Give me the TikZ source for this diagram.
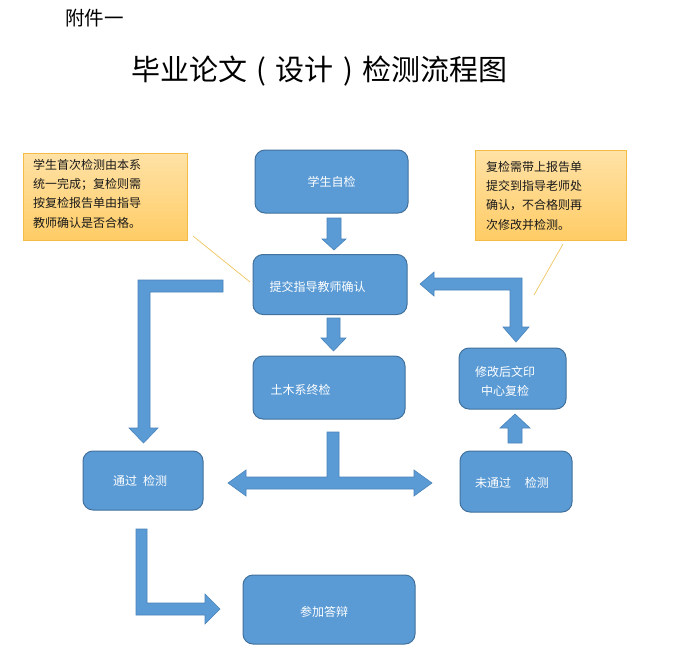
\documentclass[tikz,border=0pt]{standalone}
\usepackage{fontspec}
\setmainfont{Noto Sans CJK SC}
\usetikzlibrary{calc}
\definecolor{boxblue}{HTML}{5B9BD5}
\definecolor{boxedge}{HTML}{41719C}
\definecolor{arrowedge}{HTML}{4A84BC}
\definecolor{noteedge}{HTML}{F4BC45}
\definecolor{notetop}{HTML}{FFE2A6}
\definecolor{notebot}{HTML}{FFCC66}
\definecolor{calline}{HTML}{F0C560}
\begin{document}
\begin{tikzpicture}[x=1pt,y=-1pt,
  box/.style={draw=boxedge,line width=1pt,fill=boxblue,rounded corners=10pt,text=white,font=\fontsize{12}{19}\selectfont,inner sep=0pt,align=center},
  boxtext/.style={text=white,font=\fontsize{12}{19}\selectfont,inner sep=0pt,anchor=west},
  notebox/.style={draw=noteedge,line width=0.8pt,top color=notetop,bottom color=notebot,inner sep=0pt},
  notetext/.style={font=\fontsize{12}{19.3}\selectfont,align=left,inner sep=0pt,anchor=north west,text=black!90},
  blockarrow/.style={fill=boxblue,draw=arrowedge,line width=0.6pt,line join=miter},
  callout/.style={draw=calline,line width=0.7pt}]
\useasboundingbox (0,0) rectangle (673,659);
\fill[white] (0,0) rectangle (673,659);

% header and title
\node[font=\fontsize{19.5}{22}\selectfont,inner sep=0pt,anchor=west] (att) at (65,18) {附件一};
\node[font=\fontsize{29}{34}\selectfont,inner sep=0pt] (title) at (319.5,71) {毕业论文\makebox[1em][c]{(}设计\makebox[1em][c]{)}检测流程图};

% notes
\node[notebox,minimum width=164pt,minimum height=87pt] (n1) at (105,196.5) {};
\node[notetext] (n1t) at (33,159) {学生首次检测由本系\\统一完成；复检则需\\按复检报告单由指导\\教师确认是否合格。};
\node[notebox,minimum width=151pt,minimum height=90pt] (n2) at (550.5,195) {};
\node[notetext] (n2t) at (486,161) {复检需带上报告单\\提交到指导老师处\\确认，不合格则再\\次修改并检测。};

% boxes
\node[box,minimum width=153pt,minimum height=63pt] (b1) at (331.5,181.5) {学生自检};
\node[box,minimum width=154pt,minimum height=60pt] (b2) at (330,284.5) {};
\node[boxtext] (b2t) at ($(b2.west)+(17,2)$) {提交指导教师确认};
\node[box,minimum width=152pt,minimum height=63pt] (b3) at (329,387.5) {};
\node[boxtext] (b3t) at ($(b3.west)+(18,2)$) {土木系终检};
\node[box,minimum width=107pt,minimum height=61pt] (b4) at (512.5,378.5) {};
\node[boxtext,anchor=center,align=center] (b4t) at (505,381) {修改后文印\\中心复检};
\node[box,minimum width=120pt,minimum height=59pt] (b5) at (143,480.5) {};
\node[boxtext,anchor=center] (b5t) at (140,481) {通过\hspace{6pt}检测};
\node[box,minimum width=112pt,minimum height=61pt] (b6) at (516,481.5) {};
\node[boxtext,anchor=center] (b6t) at (512,483) {未通过\hspace{14pt}检测};
\node[box,minimum width=172pt,minimum height=69pt] (b7) at (329,609.5) {};
\node[boxtext,anchor=center] (b7t) at (324,612) {参加答辩};

% callout lines
\coordinate (c1) at (250,282);
\coordinate (c2) at (534,295);
\draw[callout] (193,236) -- (c1);
\draw[callout] (563,244) -- (c2);

% block arrows
\draw[blockarrow] (327,218) -- (341,218) -- (341,239) -- (346,239) -- (334,250) -- (322,239) -- (327,239) -- cycle;
\draw[blockarrow] (327,318) -- (340,318) -- (340,338) -- (346,338) -- (333.5,351) -- (321,338) -- (327,338) -- cycle;
\draw[blockarrow] (223,280) -- (138,280) -- (138,428) -- (129,428) -- (143.5,443) -- (158,428) -- (150,428) -- (150,292) -- (223,292) -- cycle;
\draw[blockarrow] (327,432) -- (339,432) -- (339,477) -- (414,477) -- (414,470) -- (432,483) -- (414,496) -- (414,489) -- (246,489) -- (246,496) -- (228,483) -- (246,470) -- (246,477) -- (327,477) -- cycle;
\draw[blockarrow] (420,284) -- (434,272) -- (434,278) -- (522,278) -- (522,327) -- (529,327) -- (516,342) -- (503,327) -- (510,327) -- (510,290) -- (434,290) -- (434,296) -- cycle;
\draw[blockarrow] (508,443) -- (522,443) -- (522,428) -- (530,428) -- (515,414) -- (500,428) -- (508,428) -- cycle;
\draw[blockarrow] (136,529) -- (147,529) -- (147,603) -- (205,603) -- (205,594) -- (220,609) -- (205,624) -- (205,615) -- (136,615) -- cycle;
\end{tikzpicture}
\end{document}
